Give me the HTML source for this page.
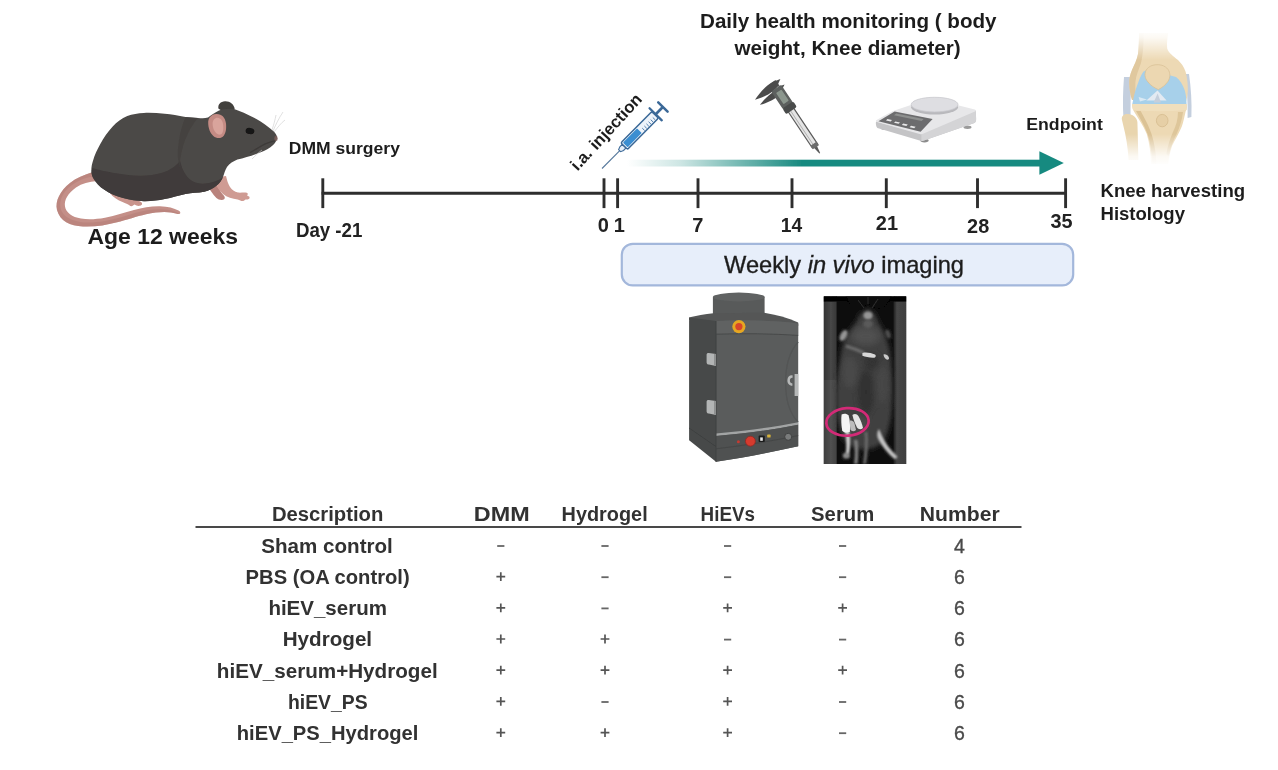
<!DOCTYPE html>
<html lang="en">
<head>
<meta charset="utf-8">
<title>Experimental design</title>
<style>
  html, body { margin: 0; padding: 0; background: #ffffff; }
  body { width: 1278px; height: 770px; overflow: hidden; position: relative;
         font-family: "Liberation Sans", sans-serif; }
  svg { position: absolute; left: 0; top: 0; display: block; }
  text { font-family: "Liberation Sans", sans-serif; fill: #1c1c1c; }
  .b { font-weight: bold; }
  .tl { font-weight: bold; font-size: 20px; fill: #222; }
  .th { font-weight: bold; font-size: 19.5px; fill: #333; }
  .td { font-weight: bold; font-size: 19.5px; fill: #303030; }
  .sg { font-size: 17px; text-anchor: middle; fill: #5a5a5a; }
  .nm { font-size: 19.5px; text-anchor: middle; fill: #4a4a4a; stroke: #4a4a4a; stroke-width: 0.35px; }
</style>
</head>
<body>
<svg id="fig" width="1278" height="770" viewBox="0 0 1278 770">
  <defs>
    <linearGradient id="gTeal" x1="0" y1="0" x2="1" y2="0">
      <stop offset="0" stop-color="#188a80" stop-opacity="0"/>
      <stop offset="0.13" stop-color="#188a80" stop-opacity="0.22"/>
      <stop offset="0.27" stop-color="#188a80" stop-opacity="0.6"/>
      <stop offset="0.42" stop-color="#188a80" stop-opacity="1"/>
      <stop offset="1" stop-color="#188a80" stop-opacity="1"/>
    </linearGradient>
    <linearGradient id="gFadeTop" x1="0" y1="0" x2="0" y2="1">
      <stop offset="0" stop-color="#fff" stop-opacity="1"/>
      <stop offset="0.25" stop-color="#fff" stop-opacity="0.85"/>
      <stop offset="1" stop-color="#fff" stop-opacity="0"/>
    </linearGradient>
    <linearGradient id="gFadeBot" x1="0" y1="0" x2="0" y2="1">
      <stop offset="0" stop-color="#fff" stop-opacity="0"/>
      <stop offset="0.7" stop-color="#fff" stop-opacity="0.85"/>
      <stop offset="1" stop-color="#fff" stop-opacity="1"/>
    </linearGradient>
    <filter id="b1" x="-20%" y="-20%" width="140%" height="140%"><feGaussianBlur stdDeviation="1"/></filter>
    <filter id="b2" x="-20%" y="-20%" width="140%" height="140%"><feGaussianBlur stdDeviation="2"/></filter>
    <filter id="b3" x="-30%" y="-30%" width="160%" height="160%"><feGaussianBlur stdDeviation="3.2"/></filter>
    <filter id="b05" x="-20%" y="-20%" width="140%" height="140%"><feGaussianBlur stdDeviation="0.6"/></filter>
    <linearGradient id="gStripL" x1="0" y1="0" x2="1" y2="0">
      <stop offset="0" stop-color="#333"/><stop offset="0.55" stop-color="#474747"/><stop offset="0.9" stop-color="#3a3a3a"/><stop offset="1" stop-color="#1c1c1c"/>
    </linearGradient>
    <linearGradient id="gStripR" x1="0" y1="0" x2="1" y2="0">
      <stop offset="0" stop-color="#1e1e1e"/><stop offset="0.25" stop-color="#464646"/><stop offset="1" stop-color="#3e3e3e"/>
    </linearGradient>
    <clipPath id="cpPhoto"><rect x="823.6" y="296.2" width="82.8" height="167.8"/></clipPath>
    <filter id="soft" x="0" y="0" width="100%" height="100%" filterUnits="userSpaceOnUse"><feGaussianBlur stdDeviation="0.45"/></filter>
  </defs>
  <rect x="0" y="0" width="1278" height="770" fill="#ffffff"/>
  <g id="all" filter="url(#soft)">
  <rect x="-5" y="-5" width="1288" height="780" fill="#ffffff"/>

  <!-- ===== MOUSE ===== -->
  <g id="mouse">
    <!-- tail -->
    <path d="M93,172 C84,175 76,178 70,183 C60,191 55,201 57,210 C60,221 70,226 83,226.5 C96,227 106,225 116,222.5 C128,219.5 136,216.5 146,214.2 C156,212 165,211.5 171,212.5 C175,213.2 178,214.4 179.5,214 C181,213.2 180.4,211.6 178.5,210.6 C174,208 168,206.4 160,206.2 C151,206 143,207.6 134,210 C124,212.8 116,215.6 105,217.8 C96,219.4 88,219.8 81,218.6 C72,217 66,212.6 65,206.5 C64,200 68,193 76,187.5 C82,183.5 89,181.5 97,181 Z" fill="#c48f88"/>
    <path d="M93,172 C84,175 76,178 70,183 C60,191 55,201 57,210 C60,221 70,226 83,226.5 C96,227 106,225 116,222.5 C128,219.5 136,216.5 146,214.2 C156,212 165,211.5 171,212.5 L179.5,214 C176,211.5 170,209.5 162,209.3 C152,209 144,210.5 135,213 C125,216 116,219 105,221 C96,222.5 87,223 80,222 C69,220 62,215 60.5,208 C59,200 63,191.5 72,185 C79,180 87,177 95,176.5 Z" fill="#b57d77" opacity="0.55"/>
    <!-- hind foot -->
    <path d="M107,189 C110,194 114,198 119,200.5 C123,202.5 127,203.6 129,205 C130.5,206.4 132,206.6 133,205.6 L134.5,204.6 C136,205.6 138,206.2 140,205.8 C142.5,205.2 142.6,203.2 141,202 C137,199.4 131,197.6 126,196 C120,194 113,191 107,189 Z" fill="#c9948c"/>
    <!-- far front leg -->
    <path d="M207,185 C210,190 213,194.6 216.4,198 C218.6,200 222.6,200.6 224.4,199 C225.6,197.6 224,195.6 222.4,194 C220.4,191.6 218.6,188 217,184 Z" fill="#b9827b"/>
    <!-- near front leg & paw -->
    <path d="M212,178 C215,184 218.6,190 223,194 C227,197.4 232.6,198.8 237.6,199.4 C240,199.8 241,201.2 243,201 C244.6,200.8 244.6,199.4 245.8,199.4 C247.6,199.6 249.8,199 249.6,197.4 C249.4,196.2 247.6,196.2 247,195.6 C248,194.8 248.2,193 246.8,192.8 C243.6,192.2 241,193 238,192.6 C234.4,192 232,189.8 230,187 C228,184 227,180 226,176 Z" fill="#cf9b93"/>
    <!-- far (dark) ear -->
    <path d="M218.4,108.6 C217.6,104.6 220.6,101.4 225,101.2 C230,101 234,104 234.8,109.4 C232,112 222,112 218.4,108.6 Z" fill="#423f3d"/>
    <!-- body -->
    <path d="M277,137 C276.6,133.6 273,130.4 268.6,127.2 C263.4,123.2 258,119.8 252,116.8 C246.6,114 241,111.6 235.4,109.6 C230,108 224,108.4 219,110.6 C214.6,112.6 211,115.6 208,117.6 C204.6,118.6 201.6,118.4 198,118 C193.6,117.6 190,117.4 185.5,117 C178,115.6 171.6,114.4 164.7,113.8 C157.6,113 150.6,112.6 143.9,112.9 C138,113.2 132.4,114 127.3,116 C121.6,118.4 116.8,122 112.7,126.4 C107.6,131.8 103.6,137.6 100.3,144 C97.2,149.6 94.6,155 93,160.7 C91.6,165 91,169 91.5,173.1 C92.2,176.4 93.8,179 96.1,181.4 C98.6,184.6 101.2,187.4 104.4,189.8 C110,193.8 116.4,196.4 123.1,198.1 C130,199.9 137,201 143.9,201.2 C151,201.3 158,200.5 164.7,199.1 C171.8,197.5 178.6,195.4 185.5,193.9 C191.8,192.9 198,192.9 204.2,191.8 C209,190.6 213.4,188.6 216.7,185.6 C219.6,183.2 221.6,180.4 222.9,177.3 C224.2,173.6 225,170 227,166.9 C229.6,163.6 233.2,161.4 237.4,159.6 C243.4,158 250,156.4 256.1,154 C261.6,152 266.6,150 270.4,147.2 C273,145.2 275.2,143.2 275.9,140.9 C276.6,139.6 277.1,138.4 277,137 Z" fill="#4c4947"/>
    <!-- belly / haunch shading -->
    <path d="M92.4,168 C91.2,172 91.4,175 93,178 C95.4,182.4 99.6,187 104.4,189.8 C110,193.8 116.4,196.4 123.1,198.1 C130,199.9 137,201 143.9,201.2 C151,201.3 158,200.5 164.7,199.1 C171.8,197.5 178.6,195.4 185.5,193.9 C191.8,192.9 198,192.9 204.2,191.8 C209,190.6 213.4,188.6 216.7,185.6 C219.6,183.2 221.6,180.4 222.9,177.3 C218,181 212,183 205,183.6 C197,184.2 190,181 186,175 C183,171 181.4,166 180,161 C176,166 170,170.4 162,172.8 C152,175.8 140,176.4 128,175 C114,173.4 101,170.6 92.4,168 Z" fill="#3f3b3a"/>
    <path d="M180,161 C181.6,151 184,141 189,131.6 C191.6,126.6 194.6,122 198,118 C193,117.6 189,117.4 185.5,117 C181,127 178.6,139 177.8,151 C177.4,158 178.4,164 180.4,169 Z" fill="#444140" opacity="0.8"/>
    <!-- muzzle line -->
    <path d="M276,140.6 C271,141.6 266,143 262,145.6 C258,148 254,150.6 250,152.6" fill="none" stroke="#3a3736" stroke-width="1.3" opacity="0.8"/>
    <!-- nose -->
    <ellipse cx="276" cy="138.4" rx="1.7" ry="2.6" fill="#7a5e5b" opacity="0.9"/>
    <!-- eye -->
    <ellipse cx="250" cy="131" rx="4.4" ry="3.1" fill="#141212" transform="rotate(8 250 131)"/>
    <!-- near (pink) ear -->
    <path d="M208.2,123 C208,118 211.4,114.4 216,114 C221.4,113.6 225.4,117.4 226,123.4 C226.6,129.6 225.6,135.4 221.4,137.6 C216.6,139.6 211.6,135.6 209.6,130.4 C208.6,127.6 208.2,125 208.2,123 Z" fill="#c48b84"/>
    <path d="M212.6,123.6 C212.6,120 214.8,117.8 217.4,117.8 C220.8,118 222.8,121 223.2,125.2 C223.6,129.6 223,133.6 220.4,134.6 C217.4,135.4 214.6,132 213.4,128.6 C212.8,126.6 212.6,125 212.6,123.6 Z" fill="#d9a49c"/>
    <!-- whiskers -->
    <g stroke="#cfcfcf" stroke-width="0.7" fill="none" opacity="0.9">
      <path d="M273,131 C276,124 279,118 283,112"/>
      <path d="M274,132 C278,127 281,123 285,120"/>
      <path d="M272,130 C274,124 275,120 276,115"/>
      <path d="M262,150 C258,153 255,156 252,159"/>
    </g>
  </g>

  <!-- ===== TIMELINE ===== -->
  <g id="timeline" stroke="#2d2d2d" stroke-width="2.9" fill="none">
    <line x1="321.6" y1="193.2" x2="1066.8" y2="193.2"/>
    <line x1="322.8" y1="178.3" x2="322.8" y2="208.1"/>
    <line x1="604" y1="178.3" x2="604" y2="208.1"/>
    <line x1="617.6" y1="178.3" x2="617.6" y2="208.1"/>
    <line x1="698" y1="178.3" x2="698" y2="208.1"/>
    <line x1="792" y1="178.3" x2="792" y2="208.1"/>
    <line x1="886.3" y1="178.3" x2="886.3" y2="208.1"/>
    <line x1="977.5" y1="178.3" x2="977.5" y2="208.1"/>
    <line x1="1065.6" y1="178.3" x2="1065.6" y2="208.1"/>
  </g>
  <g id="tlabels">
    <text class="tl" x="295.9" y="236.9" textLength="66.5" lengthAdjust="spacingAndGlyphs">Day -21</text>
    <text class="tl" x="603.2" y="232.0" text-anchor="middle">0</text>
    <text class="tl" x="619.4" y="232.0" text-anchor="middle">1</text>
    <text class="tl" x="697.9" y="231.5" text-anchor="middle">7</text>
    <text class="tl" x="780.8" y="231.8" textLength="21.4" lengthAdjust="spacingAndGlyphs">14</text>
    <text class="tl" x="875.8" y="229.7" textLength="22.2" lengthAdjust="spacingAndGlyphs">21</text>
    <text class="tl" x="967.1" y="232.5" textLength="22.1" lengthAdjust="spacingAndGlyphs">28</text>
    <text class="tl" x="1050.4" y="228.3" textLength="22.1" lengthAdjust="spacingAndGlyphs">35</text>
  </g>

  <!-- ===== TEAL ARROW ===== -->
  <g id="arrow">
    <rect x="627" y="159.7" width="416" height="6.8" fill="url(#gTeal)"/>
    <polygon points="1039.4,151.2 1063.8,163 1039.4,174.8" fill="#188a80"/>
  </g>

  <!-- ===== SYRINGE ===== -->
  <g id="syringe" transform="translate(602,168.5) rotate(-45.3)">
    <line x1="0" y1="0" x2="26" y2="0" stroke="#56789c" stroke-width="1.1"/>
    <path d="M25,-1.4 L28,-2.6 L31.5,-2.6 L31.5,2.6 L28,2.6 L25,1.4 Z" fill="#e6eef7" stroke="#3f6c9a" stroke-width="1.1"/>
    <rect x="31.5" y="-4.7" width="44" height="9.4" rx="1.6" fill="#edf3fa" stroke="#3a6897" stroke-width="1.5"/>
    <rect x="33.2" y="-3.3" width="20" height="6.6" rx="0.8" fill="#3a8ed1"/>
    <g stroke="#4a78a6" stroke-width="0.9">
      <line x1="57" y1="0.2" x2="57" y2="3.6"/>
      <line x1="60" y1="0.2" x2="60" y2="3.6"/>
      <line x1="63" y1="0.2" x2="63" y2="3.6"/>
      <line x1="66" y1="0.2" x2="66" y2="3.6"/>
      <line x1="69" y1="0.2" x2="69" y2="3.6"/>
      <line x1="72" y1="0.2" x2="72" y2="3.6"/>
    </g>
    <line x1="76.3" y1="-8.6" x2="76.3" y2="8.6" stroke="#3a6897" stroke-width="2.3" stroke-linecap="round"/>
    <rect x="76" y="-1.3" width="10.5" height="2.6" fill="#3a6897"/>
    <line x1="86.6" y1="-6.6" x2="86.6" y2="6.6" stroke="#3a6897" stroke-width="2.5" stroke-linecap="round"/>
  </g>

  <!-- ===== CALIPER ===== -->
  <g id="caliper" transform="translate(774.6,85.4) rotate(56.3)">
    <!-- beam -->
    <rect x="-3" y="-3.3" width="76" height="6.6" fill="#e4e4e4" stroke="#5a5a5a" stroke-width="1.2"/>
    <line x1="30" y1="0.8" x2="72" y2="0.8" stroke="#a0a0a0" stroke-width="0.7"/>
    <!-- depth rod -->
    <rect x="70" y="-3.6" width="4.4" height="7.2" fill="#6c6c6c"/>
    <path d="M74,-1.6 L81.5,-0.4 L81.5,0.6 L74,1.8 Z" fill="#5a5a5a"/>
    <!-- inside (small) jaws -->
    <path d="M-3.4,-3 L-2.2,-8.4 L1.2,-3 Z" fill="#4d4d4d"/>
    <path d="M3.4,-3 L4.8,-8.8 L8,-3 Z" fill="#4d4d4d"/>
    <!-- upper fixed jaw -->
    <path d="M-4,-3.4 L2.4,-3.4 C4.2,2 4.6,9 3.4,15 C2.8,18.4 2,21 1,24.2 C-0.8,20 -2.6,14.6 -3.6,9 C-4.2,5 -4.4,1 -4,-3.4 Z" fill="#4c4c4c"/>
    <!-- lower moving jaw -->
    <path d="M4.6,2.6 L11,2.6 C11.4,8 10.8,13 9.6,17.6 C9.2,19.6 8.6,21.4 8,23 C7,19.6 5.8,15 5.2,10.6 C4.8,8 4.6,5 4.6,2.6 Z" fill="#4c4c4c"/>
    <!-- display housing -->
    <rect x="3.2" y="-5.8" width="21.4" height="12" rx="1.4" fill="#5d605e"/>
    <rect x="7.2" y="-3.4" width="13.4" height="6.4" rx="0.8" fill="#8b968d"/>
    <!-- lock ring -->
    <rect x="23.6" y="-6.6" width="6.8" height="13" rx="1.8" fill="#4a4c4b"/>
  </g>

  <!-- ===== BALANCE ===== -->
  <g id="balance">
    <!-- feet -->
    <ellipse cx="924.5" cy="140.6" rx="4.2" ry="1.8" fill="#8c8c8c"/>
    <ellipse cx="967.5" cy="127.2" rx="4" ry="1.7" fill="#9a9a9a"/>
    <ellipse cx="884" cy="128.4" rx="3" ry="1.4" fill="#9a9a9a"/>
    <!-- base sides -->
    <path d="M876,121.5 C875.6,124 876,126.4 877.4,128 L919.6,140.6 C921,141 922.6,141 924,140.4 L974.4,123 C975.8,122.2 976.2,120.6 976.1,118.6 L975.8,110.4 L921.4,133.6 Z" fill="#c4c4c6"/>
    <path d="M921.4,133.6 L975.8,110.4 L976.1,118.6 C976.2,120.6 975.8,122.2 974.4,123 L924,140.4 C923,140.8 922,141 921.4,140.9 Z" fill="#d4d4d6"/>
    <!-- top surface -->
    <path d="M876.6,120 C875.6,120.8 875.6,121.6 877,122 L919.6,134 C921,134.4 922.4,134.2 923.6,133.6 L975,111.6 C976.4,110.8 976.2,109.8 974.8,109.4 L932,98.8 C930.6,98.4 929.2,98.6 928,99.2 L893,111 Z" fill="#e7e7e9"/>
    <!-- control panel -->
    <path d="M878.4,121.2 L894.6,111.4 L932.6,118.9 L920.6,131.8 Z" fill="#6c6c6e"/>
    <path d="M896.2,113.4 L923.6,118.9 L921.6,121 L894,115.2 Z" fill="#8e908f"/>
    <g fill="#e9e9ea">
      <path d="M887.4,119 L892,120 L890.6,121.4 L886,120.4 Z"/>
      <path d="M895.4,121.4 L900,122.4 L898.6,123.8 L894,122.8 Z"/>
      <path d="M903.2,123.6 L907.8,124.6 L906.4,126 L901.8,125 Z"/>
      <path d="M911,125.8 L915.6,126.8 L914.2,128.2 L909.6,127.2 Z"/>
    </g>
    <!-- pan -->
    <ellipse cx="934.6" cy="107.2" rx="23.4" ry="7.3" fill="#b9b9bd"/>
    <ellipse cx="934.6" cy="104.6" rx="23.4" ry="7.3" fill="#dedee2"/>
    <ellipse cx="934.6" cy="104.6" rx="23.4" ry="7.3" fill="none" stroke="#c9c9ce" stroke-width="0.8"/>
  </g>

  <!-- ===== KNEE ===== -->
  <g id="knee">
    <!-- ligaments -->
    <path d="M1124,77 C1123,90 1122.6,104 1123.4,118 L1130.6,119 C1130.4,105 1130.6,91 1131.6,77 Z" fill="#c4cfde"/>
    <path d="M1185,74 C1187,88 1188,103 1187.6,118 L1191.4,117 C1192,102 1191,88 1189,74 Z" fill="#c4cfde"/>
    <!-- fibula -->
    <path d="M1122,120 C1121,116 1124,113.6 1128,114 C1133,114.4 1137,117.6 1137.4,122 C1137.8,134 1138,146 1138.4,160 L1128.6,160 C1128,148 1126,136 1123.4,126 Z" fill="#e9d5ae"/>
    <!-- femur -->
    <path d="M1139,33 C1139,40 1138.8,47 1138,54 C1137,60 1134,65 1132,70 C1130,74.6 1129,79 1129.2,83.6 C1129.4,89.6 1130.4,95 1132,100 L1186,101.4 C1187.4,96.6 1188,92 1187.8,87.4 C1187.6,82 1187,76.6 1185.6,71.8 C1184,66.6 1181,63 1178,60 C1173.6,56 1168.6,53 1167.2,48.4 C1166.6,43.6 1167.4,38 1168.2,33 Z" fill="#edd9b4"/>
    <path d="M1139,33 C1139,40 1138.8,47 1138,54 C1137,60 1134,65 1132,70 C1130,74.6 1129,79 1129.2,83.6 C1129.4,89.6 1130.4,95 1132,100 L1137,100 C1135.6,94 1135,88 1135.4,82 C1136,75 1139,69 1141,63 C1143,55 1143.6,44 1143.6,33 Z" fill="#dcc398" opacity="0.8"/>
    <!-- cartilage / meniscus -->
    <path d="M1132.6,102.6 C1134,95 1136,88 1138.6,81.6 C1140,77.6 1141.6,74 1143.6,71.6 C1146,69.6 1149,69.6 1152,70.6 L1176,77 C1180,80 1183,85 1184.8,90.4 C1186,94.6 1186.4,98.6 1186.6,104.4 L1132.2,104.4 Z" fill="#a7d0ea"/>
    <path d="M1146.4,100.4 L1157.5,90.6 L1166.6,100.4 Z" fill="#e3eaf2"/>
    <path d="M1153.6,102.4 L1157.6,93.4 L1161,102.4 Z" fill="#c5cfdc"/>
    <path d="M1138.6,97 L1147,99.6 L1140,101.6 Z" fill="#d9e9f4"/>
    <!-- patella -->
    <path d="M1145,75.6 C1144.6,70 1148.6,66 1154,65 C1159.6,64 1165,65.4 1168,69.4 C1170.6,73 1170.4,77.6 1168,81.4 C1165.6,85 1162,87.6 1158.4,89.6 C1154.6,88 1150.6,85.4 1148,82 C1146.2,80 1145.2,77.8 1145,75.6 Z" fill="#ecd7b1" stroke="#d9c197" stroke-width="0.8"/>
    <!-- tibia -->
    <path d="M1132,104 L1186.8,104 C1187.2,107 1186.8,109.6 1185.6,111.6 C1184.4,117 1183.4,122 1181.8,126.4 C1179,133 1175,139.6 1172,146 C1170,152 1168.8,158 1168.2,164 L1151,164 C1150.8,154 1149.6,143.6 1146.8,134 C1143.6,126 1138,118.6 1134,111.6 C1132.6,109.4 1132,106.6 1132,104 Z" fill="#edd9b4"/>
    <path d="M1136,111 C1140,118 1144.6,126 1147.6,134 C1150.6,143.6 1152,154 1152.4,164 L1156.4,164 C1156,152 1154,140 1150,130 C1147.4,123 1143.6,116.6 1140.6,111 Z" fill="#d7bd8f" opacity="0.85"/>
    <path d="M1178,112 C1178,119 1176,126 1173,132 C1170,139 1167.6,146 1166.4,154 L1168.8,156 C1170,148 1173,141 1176.6,134 C1179.6,127.6 1182,120 1183,112 Z" fill="#d7bd8f" opacity="0.7"/>
    <ellipse cx="1162.2" cy="120.6" rx="5.8" ry="6.2" fill="#e6cfa6" stroke="#d6bb8e" stroke-width="0.8"/>
    <path d="M1132,104 L1186.8,104 L1186.6,110 C1170,111.6 1150,111.6 1133,110 Z" fill="#f0dfbd"/>
    <!-- fades -->
    <rect x="1115" y="30" width="85" height="30" fill="url(#gFadeTop)"/>
    <rect x="1115" y="134" width="85" height="32" fill="url(#gFadeBot)"/>
  </g>

  <!-- ===== HEADINGS ===== -->
  <text class="b" x="700" y="28" textLength="296.6" lengthAdjust="spacingAndGlyphs" font-size="20.3">Daily health monitoring ( body</text>
  <text class="b" x="734.5" y="54.5" textLength="226.2" lengthAdjust="spacingAndGlyphs" font-size="20.3">weight, Knee diameter)</text>
  <text class="b" x="288.8" y="154.2" textLength="111.1" lengthAdjust="spacingAndGlyphs" font-size="17">DMM surgery</text>
  <text class="b" x="87.5" y="244" textLength="150.5" lengthAdjust="spacingAndGlyphs" font-size="22">Age 12 weeks</text>
  <text class="b" x="1026.3" y="129.8" textLength="76.5" lengthAdjust="spacingAndGlyphs" font-size="17">Endpoint</text>
  <text class="b" x="1100.5" y="197" textLength="144.6" lengthAdjust="spacingAndGlyphs" font-size="18">Knee harvesting</text>
  <text class="b" x="1100.5" y="220.4" textLength="84.5" lengthAdjust="spacingAndGlyphs" font-size="18">Histology</text>
  <text class="b" font-size="16.8" transform="translate(577.5,171.5) rotate(-47.5)">i.a. injection</text>

  <!-- ===== IMAGING BOX ===== -->
  <rect x="621.8" y="243.8" width="451.4" height="41.6" rx="11" ry="11" fill="#e7eefa" stroke="#a3b7db" stroke-width="2.2"/>
  <text x="724" y="272.8" font-size="24" textLength="240" lengthAdjust="spacingAndGlyphs" fill="#222" stroke="#222" stroke-width="0.35">Weekly <tspan font-style="italic">in vivo</tspan> imaging</text>

  <!-- ===== IMAGING MACHINE ===== -->
  <g id="machine">
    <!-- cylinder -->
    <path d="M712.9,297 L712.9,314 C712.9,317 724,319.4 738.8,319.4 C753.6,319.4 764.6,317 764.6,314 L764.6,297 Z" fill="#585a5a"/>
    <ellipse cx="738.8" cy="297" rx="25.9" ry="4.4" fill="#606262"/>
    <!-- top lid -->
    <path d="M689.1,317.6 C696,315.6 705,314 713.4,313.2 L764.2,312.8 C776,314.6 788,318 798.2,322.6 L798.2,326 L716,322.4 L689.1,320 Z" fill="#545656"/>
    <!-- left face -->
    <path d="M689.1,317.4 L716,321 L716,461.8 L689.1,440.2 Z" fill="#474949"/>
    <!-- front face -->
    <path d="M716,321 C744,319.6 772,320.4 798.2,323.4 L798.2,446.2 C772,452 744,457.6 716,461.8 Z" fill="#5a5c5c"/>
    <!-- top bezel -->
    <path d="M716,321 C744,319.6 772,320.4 798.2,323.4 L798.2,335.4 C772,333.6 744,333.4 716,334.2 Z" fill="#606262"/>
    <path d="M716,334.2 C744,333.4 772,333.6 798.2,335.4" fill="none" stroke="#484a4a" stroke-width="1"/>
    <!-- door arc -->
    <path d="M798.2,342 C789,352 785.4,368 785.6,384 C785.8,400 790,414 798.2,422" fill="none" stroke="#525454" stroke-width="1.2"/>
    <!-- light stripe -->
    <path d="M716,433.4 C744,431 772,427.4 798.2,422.2 L798.2,424.8 C772,430 744,433.6 716,436 Z" fill="#a2a4a4"/>
    <!-- lower control strip & base -->
    <path d="M716,436 C744,433.6 772,430 798.2,424.8 L798.2,446.2 C772,452 744,457.6 716,461.8 Z" fill="#4f5151"/>
    <path d="M716,448.8 C744,445.6 772,441 798.2,435.6" fill="none" stroke="#444646" stroke-width="1"/>
    <path d="M689.1,428 L716,446.6" fill="none" stroke="#3e4040" stroke-width="1"/>
    <!-- edges -->
    <line x1="716" y1="321" x2="716" y2="461.8" stroke="#3f4141" stroke-width="1"/>
    <!-- hinges -->
    <path d="M706.6,354.6 C706.6,353.4 707.6,352.8 708.8,353 L716,354 L716,366 L708.8,364.6 C707.6,364.4 706.6,363.6 706.6,362.4 Z" fill="#b3b5b5"/>
    <path d="M706.6,401.6 C706.6,400.4 707.6,399.8 708.8,400 L716,401 L716,415 L708.8,413.6 C707.6,413.4 706.6,412.6 706.6,411.4 Z" fill="#b3b5b5"/>
    <path d="M714,354 L716,354 L716,366 L714,365.6 Z" fill="#8e9090"/>
    <path d="M714,401 L716,401 L716,415 L714,414.6 Z" fill="#8e9090"/>
    <!-- handle -->
    <path d="M794.6,374 L798.2,374 L798.2,396 L794.6,396 Z" fill="#b6b8b8"/>
    <path d="M792.6,375.4 C789.6,375 787.6,377 787.4,380 C787.2,383.4 789,385.6 792.4,385.8 L792.4,383.4 C790.6,383.2 789.8,382 789.9,380.2 C790,378.6 791,377.6 792.6,377.8 Z" fill="#b6b8b8"/>
    <!-- emergency button -->
    <circle cx="738.9" cy="326.6" r="6.6" fill="#e6a722"/>
    <circle cx="738.9" cy="326.6" r="3.6" fill="#d9452c"/>
    <!-- lower controls -->
    <circle cx="738.4" cy="441.8" r="1.5" fill="#c43a30"/>
    <circle cx="750.4" cy="441.2" r="5" fill="#d63a2e"/>
    <circle cx="750.4" cy="441.2" r="5" fill="none" stroke="#8e2a24" stroke-width="0.8"/>
    <rect x="758.6" y="435.6" width="6.2" height="6.4" rx="0.8" fill="#1e1e1e"/>
    <rect x="760.2" y="437.4" width="2.6" height="3.4" fill="#e8e8e8"/>
    <rect x="767.2" y="434.6" width="3.4" height="3" rx="0.6" fill="#d6b23a"/>
    <circle cx="788.2" cy="436.8" r="3.5" fill="#7a7c7c" stroke="#3e4040" stroke-width="0.9"/>
  </g>

  <!-- ===== IN-VIVO PHOTO ===== -->
  <g id="photo" clip-path="url(#cpPhoto)">
    <rect x="823.6" y="296.2" width="82.8" height="167.8" fill="#101010"/>
    <rect x="823.6" y="296.2" width="13.4" height="167.8" fill="url(#gStripL)"/>
    <rect x="893.6" y="296.2" width="12.8" height="167.8" fill="url(#gStripR)"/>
    <rect x="823.6" y="380" width="13.4" height="84" fill="#ffffff" opacity="0.05"/>
    <rect x="823.6" y="296.2" width="82.8" height="5.4" fill="#060606"/>
    <path d="M846,296 L892,296 L886,306 C880,311 874,309 868,304 C862,310 856,312 850,306 Z" fill="#070707" filter="url(#b1)"/>
    <path d="M858,300 L864,308 M878,299 L872,308 M868,297 L868,304" stroke="#3a3a3a" stroke-width="0.8" fill="none" filter="url(#b05)"/>
    <!-- mouse body -->
    <g filter="url(#b2)">
      <path d="M868,309 C873,311 876.6,316 878,322 C882,328 886,335 887.6,343 C890.6,352 891.6,364 892,376 C892.8,390 892.6,404 891,416 C889.6,426 887,436 882,443 C876,448 868,450 860,449 C852,448 846,444 842.6,437 C838.6,428 836.6,416 836,404 C835.6,390 837,376 839.6,362 C840.6,354 842,346 845,339 C848,332 853,326 857,321 C859,315 862.6,310.6 868,309 Z" fill="#414141"/>
    </g>
    <g filter="url(#b3)" opacity="0.75">
      <ellipse cx="866" cy="336" rx="14" ry="9" fill="#565656"/>
      <ellipse cx="850" cy="372" rx="7" ry="16" fill="#4e4e4e"/>
      <ellipse cx="882" cy="384" rx="6" ry="20" fill="#4a4a4a"/>
      <ellipse cx="866" cy="392" rx="8" ry="22" fill="#2c2c2c"/>
      <ellipse cx="872" cy="362" rx="8" ry="8" fill="#2e2e2e"/>
      <ellipse cx="858" cy="424" rx="10" ry="8" fill="#505050"/>
    </g>
    <!-- forearm band -->
    <path d="M846,346 C852,348 858,350 864,353" stroke="#6c6c6c" stroke-width="3" fill="none" filter="url(#b1)"/>
    <!-- head highlight -->
    <ellipse cx="868" cy="315.4" rx="4.6" ry="4" fill="#969696" filter="url(#b1)"/>
    <ellipse cx="868" cy="324" rx="5" ry="4" fill="#5a5a5a" filter="url(#b1)"/>
    <!-- ears -->
    <ellipse cx="843.6" cy="335.4" rx="3.2" ry="6" fill="#969696" transform="rotate(28 843.6 335.4)" filter="url(#b1)"/>
    <ellipse cx="888" cy="334" rx="2.4" ry="4.6" fill="#505050" transform="rotate(-20 888 334)" filter="url(#b1)"/>
    <!-- front paws -->
    <g filter="url(#b05)">
      <path d="M862.4,353 C866,352 871,352.8 875,354.6 C876.6,356 875.6,358.2 873,357.8 C869,357.4 865,356.8 862.4,355.8 Z" fill="#d8d8d8"/>
      <path d="M883.6,354.2 C886,353.8 888.6,355.6 889,358 C889.2,359.8 887.2,360.2 885.8,359 C884.4,357.8 883.4,356 883.6,354.2 Z" fill="#cacaca"/>
    </g>
    <!-- hind legs / tail -->
    <g filter="url(#b1)">
      <path d="M845.4,432 C846.4,440 846.8,447 845.8,454 L849,455 C850.4,448 850.4,440 849.4,432 Z" fill="#d0d0d0"/>
      <ellipse cx="846.4" cy="455.6" rx="3.6" ry="3.2" fill="#8a8a8a"/>
      <path d="M879,429 C882,437 886.6,445 892,451 C894,453 896.4,455 897.6,457.6 L894.6,459 C889,454.6 882.6,447.6 878.6,439.6 C877,436.6 876.6,432.6 879,429 Z" fill="#c2c2c2"/>
      <path d="M864.4,432 C865.4,441 864.4,452 863,464 L866.2,464 C868,452 868.6,441 867.6,432 Z" fill="#666"/>
      <path d="M854,440 C855,448 855,456 854,464 L857.6,464 C858.8,456 858.4,448 857.6,440 Z" fill="#7e7e7e"/>
    </g>
    <!-- bright knee signal -->
    <g filter="url(#b05)">
      <path d="M841.6,414.6 C844,413.2 847,413.6 848.6,415.6 C850,420 850.4,426 849.8,432 C846.8,433.4 843.8,432.6 842.2,430.4 C841.2,425 841,419.6 841.6,414.6 Z" fill="#f4f4f4"/>
      <path d="M852.4,415 C854.4,413.2 857,413.8 858.4,416 C860.6,420 862.2,424 863,428 C861,430 858.4,429.6 857,427.6 C855,423.6 853.4,419.6 852.4,415 Z" fill="#e6e6e6"/>
      <path d="M849.4,421 C851.4,420 853.4,421 854.4,423 L856,430 C854,432 851.4,431.6 850.4,429.6 Z" fill="#bdbdbd"/>
    </g>
    <!-- pink ROI -->
    <ellipse cx="847.5" cy="421.9" rx="21.2" ry="13.8" fill="none" stroke="#d32a77" stroke-width="2.7" transform="rotate(-4 847.5 421.9)"/>
  </g>

  <!-- ===== TABLE ===== -->
  <g id="table">
    <line x1="195.5" y1="527" x2="1021.5" y2="527" stroke="#4a4a4a" stroke-width="1.8"/>
    <text class="th" x="271.9" y="520.8" textLength="111.5" lengthAdjust="spacingAndGlyphs">Description</text>
    <text class="th" x="473.8" y="520.8" textLength="55.8" lengthAdjust="spacingAndGlyphs">DMM</text>
    <text class="th" x="561.6" y="520.8" textLength="86.1" lengthAdjust="spacingAndGlyphs">Hydrogel</text>
    <text class="th" x="700.6" y="520.8" textLength="54.4" lengthAdjust="spacingAndGlyphs">HiEVs</text>
    <text class="th" x="811.1" y="520.8" textLength="63.1" lengthAdjust="spacingAndGlyphs">Serum</text>
    <text class="th" x="919.8" y="520.8" textLength="79.9" lengthAdjust="spacingAndGlyphs">Number</text>
    <text class="td" x="261.3" y="552.8" textLength="131.5" lengthAdjust="spacingAndGlyphs">Sham control</text>
    <path d="M497.2,546.0 H504.40000000000003" stroke="#666" stroke-width="1.8" fill="none"/>
    <path d="M601.4,546.0 H608.6" stroke="#666" stroke-width="1.8" fill="none"/>
    <path d="M724.0,546.0 H731.2" stroke="#666" stroke-width="1.8" fill="none"/>
    <path d="M839.0,546.0 H846.2" stroke="#666" stroke-width="1.8" fill="none"/>
    <text class="nm" x="959.5" y="552.8">4</text>
    <text class="td" x="245.6" y="584.0" textLength="164.1" lengthAdjust="spacingAndGlyphs">PBS (OA control)</text>
    <path d="M496.40000000000003,576.6 H505.2 M500.8,572.2 V581.0" stroke="#555" stroke-width="1.7" fill="none"/>
    <path d="M601.4,577.2 H608.6" stroke="#666" stroke-width="1.8" fill="none"/>
    <path d="M724.0,577.2 H731.2" stroke="#666" stroke-width="1.8" fill="none"/>
    <path d="M839.0,577.2 H846.2" stroke="#666" stroke-width="1.8" fill="none"/>
    <text class="nm" x="959.5" y="584.0">6</text>
    <text class="td" x="268.4" y="615.2" textLength="118.5" lengthAdjust="spacingAndGlyphs">hiEV_serum</text>
    <path d="M496.40000000000003,607.8 H505.2 M500.8,603.4 V612.2" stroke="#555" stroke-width="1.7" fill="none"/>
    <path d="M601.4,608.4 H608.6" stroke="#666" stroke-width="1.8" fill="none"/>
    <path d="M723.2,607.8 H732.0 M727.6,603.4 V612.2" stroke="#555" stroke-width="1.7" fill="none"/>
    <path d="M838.2,607.8 H847.0 M842.6,603.4 V612.2" stroke="#555" stroke-width="1.7" fill="none"/>
    <text class="nm" x="959.5" y="615.2">6</text>
    <text class="td" x="282.7" y="646.4" textLength="89.4" lengthAdjust="spacingAndGlyphs">Hydrogel</text>
    <path d="M496.40000000000003,639.0 H505.2 M500.8,634.6 V643.4" stroke="#555" stroke-width="1.7" fill="none"/>
    <path d="M600.6,639.0 H609.4 M605.0,634.6 V643.4" stroke="#555" stroke-width="1.7" fill="none"/>
    <path d="M724.0,639.6 H731.2" stroke="#666" stroke-width="1.8" fill="none"/>
    <path d="M839.0,639.6 H846.2" stroke="#666" stroke-width="1.8" fill="none"/>
    <text class="nm" x="959.5" y="646.4">6</text>
    <text class="td" x="216.8" y="677.6" textLength="220.9" lengthAdjust="spacingAndGlyphs">hiEV_serum+Hydrogel</text>
    <path d="M496.40000000000003,670.2 H505.2 M500.8,665.8 V674.6" stroke="#555" stroke-width="1.7" fill="none"/>
    <path d="M600.6,670.2 H609.4 M605.0,665.8 V674.6" stroke="#555" stroke-width="1.7" fill="none"/>
    <path d="M723.2,670.2 H732.0 M727.6,665.8 V674.6" stroke="#555" stroke-width="1.7" fill="none"/>
    <path d="M838.2,670.2 H847.0 M842.6,665.8 V674.6" stroke="#555" stroke-width="1.7" fill="none"/>
    <text class="nm" x="959.5" y="677.6">6</text>
    <text class="td" x="288" y="708.8" textLength="79.6" lengthAdjust="spacingAndGlyphs">hiEV_PS</text>
    <path d="M496.40000000000003,701.4 H505.2 M500.8,697.0 V705.8" stroke="#555" stroke-width="1.7" fill="none"/>
    <path d="M601.4,702.0 H608.6" stroke="#666" stroke-width="1.8" fill="none"/>
    <path d="M723.2,701.4 H732.0 M727.6,697.0 V705.8" stroke="#555" stroke-width="1.7" fill="none"/>
    <path d="M839.0,702.0 H846.2" stroke="#666" stroke-width="1.8" fill="none"/>
    <text class="nm" x="959.5" y="708.8">6</text>
    <text class="td" x="236.8" y="740.0" textLength="181.6" lengthAdjust="spacingAndGlyphs">hiEV_PS_Hydrogel</text>
    <path d="M496.40000000000003,732.6 H505.2 M500.8,728.2 V737.0" stroke="#555" stroke-width="1.7" fill="none"/>
    <path d="M600.6,732.6 H609.4 M605.0,728.2 V737.0" stroke="#555" stroke-width="1.7" fill="none"/>
    <path d="M723.2,732.6 H732.0 M727.6,728.2 V737.0" stroke="#555" stroke-width="1.7" fill="none"/>
    <path d="M839.0,733.2 H846.2" stroke="#666" stroke-width="1.8" fill="none"/>
    <text class="nm" x="959.5" y="740.0">6</text>
  </g>
  </g>
</svg>
</body>
</html>
